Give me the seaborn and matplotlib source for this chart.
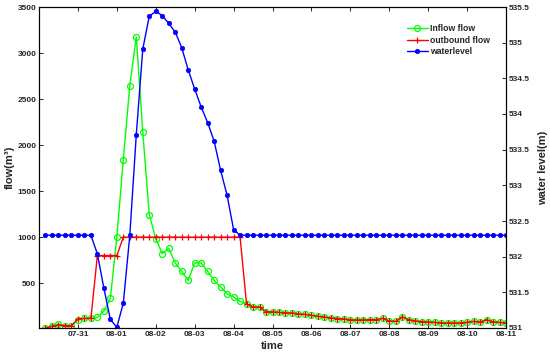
import pandas as pd
import seaborn as sns
import matplotlib.pyplot as plt
import matplotlib.dates as mdates

# 4-hourly samples, 07-30 04:00 .. 08-11 00:00
times = pd.date_range('2021-07-30 04:00', periods=72, freq='4h')

inflow = [13, 38, 56, 40, 38, 103, 117, 117, 128, 198, 335, 998,
          1842, 2647, 3176, 2139, 1245, 985, 821, 878, 720, 628, 530, 720,
          720, 628, 530, 459, 386, 350, 302, 274, 241, 241, 190, 187,
          183, 176, 176, 165, 161, 150, 140, 132, 122, 115, 111, 100,
          100, 100, 103, 103, 117, 89, 85, 133, 103, 89, 82, 78,
          74, 67, 67, 67, 67, 74, 85, 78, 103, 78, 74, 67]

outbound = ([13, 30, 46, 38, 38, 111, 117, 117]
            + [800] * 4
            + [1000] * 19
            + inflow[31:])

water_level = ([532.30] * 8
               + [532.04, 531.56, 531.12, 531.01, 531.35, 532.30,
                  533.71, 534.91, 535.37, 535.44, 535.38, 535.27,
                  535.15, 534.93, 534.62, 534.35, 534.10, 533.88,
                  533.62, 533.21, 532.86, 532.38]
               + [532.30] * 42)

x_ticks = pd.date_range('2021-07-31', '2021-08-11', freq='D')
flow_ticks = [500, 1000, 1500, 2000, 2500, 3000, 3500]
level_ticks = [531, 531.5, 532, 532.5, 533, 533.5, 534, 534.5, 535, 535.5]

df = pd.DataFrame({'time': times, 'inflow': inflow,
                   'outbound': outbound, 'level': water_level})

sns.set_style('ticks')
plt.rcParams['font.family'] = ['Liberation Sans', 'DejaVu Sans']
plt.rcParams['font.weight'] = 'bold'
plt.rcParams['axes.labelweight'] = 'bold'

fig = plt.figure(figsize=(5.5, 3.61), dpi=100)
ax = fig.add_axes([39 / 550, 1 - 328 / 361, 467 / 550, 321 / 361])
ax2 = ax.twinx()

# seaborn defaults marker edges to white, so set them explicitly
sns.lineplot(data=df, x='time', y='inflow', ax=ax, color='#00ff00',
             marker='o', markersize=4.3, markerfacecolor='none',
             markeredgecolor='#00ff00', markeredgewidth=0.9,
             linewidth=1.0, label='Inflow flow', legend=False, errorbar=None)
sns.lineplot(data=df, x='time', y='outbound', ax=ax, color='#ff0000',
             marker='+', markersize=5, markeredgecolor='#ff0000',
             markeredgewidth=0.9,
             linewidth=1.0, label='outbound flow', legend=False, errorbar=None)
sns.lineplot(data=df, x='time', y='level', ax=ax2, color='#0000ff',
             marker='o', markersize=3.2, markeredgecolor='#0000ff',
             markerfacecolor='#0000ff', markeredgewidth=0.5,
             linewidth=1.0, label='waterlevel', legend=False, errorbar=None)

ax.set_xlim(pd.Timestamp('2021-07-30'), pd.Timestamp('2021-08-11'))
ax.set_xticks(x_ticks)
ax.xaxis.set_major_formatter(mdates.DateFormatter('%m-%d'))
ax.set_ylim(13, 3500)
ax.set_yticks(flow_ticks)
ax2.set_ylim(531, 535.5)
ax2.set_yticks(level_ticks)
ax2.set_yticklabels([f'{v:g}' for v in level_ticks])

ax.tick_params(axis='both', direction='in', length=3, width=0.7,
               labelsize=6, top=True, pad=2.5)
ax.tick_params(axis='y', pad=2)
ax2.tick_params(axis='y', direction='in', length=3, width=0.7,
                labelsize=6, pad=2)

for a in (ax, ax2):
    for s in a.spines.values():
        s.set_color('black')
        s.set_linewidth(0.8)

ax.set_xlabel('time', fontsize=8, labelpad=2)
ax.set_ylabel('flow(m³)', fontsize=8, labelpad=2)
ax2.set_ylabel('water level(m)', fontsize=8, labelpad=6)

handles = ax.get_lines() + ax2.get_lines()
ax2.legend(handles, [h.get_label() for h in handles], loc='upper left',
           bbox_to_anchor=(407 / 550, 1 - 24 / 361),
           bbox_transform=fig.transFigure, frameon=False, fontsize=6.2,
           handlelength=2.4, handletextpad=0.3, labelspacing=0.3,
           borderaxespad=0, borderpad=0)

fig.savefig('out.png', dpi=100)
